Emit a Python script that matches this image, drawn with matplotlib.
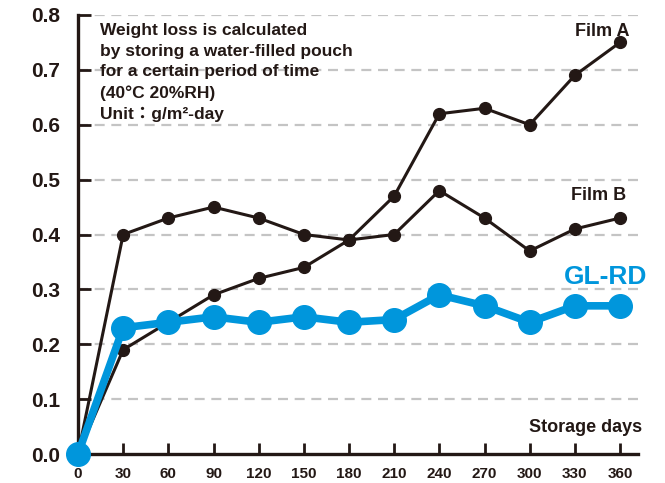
import matplotlib
matplotlib.use("Agg")
import matplotlib.pyplot as plt
from matplotlib import font_manager

plt.rcParams['font.family'] = ['Liberation Sans', 'DejaVu Sans']

days = [0, 30, 60, 90, 120, 150, 180, 210, 240, 270, 300, 330, 360]
film_a = [0, 0.19, 0.24, 0.29, 0.32, 0.34, 0.39, 0.47, 0.62, 0.63, 0.60, 0.69, 0.75]
film_b = [0, 0.40, 0.43, 0.45, 0.43, 0.40, 0.39, 0.40, 0.48, 0.43, 0.37, 0.41, 0.43]
gl_rd = [0, 0.23, 0.24, 0.25, 0.24, 0.25, 0.24, 0.245, 0.29, 0.27, 0.24, 0.27, 0.27]
y_ticks = [0.0, 0.1, 0.2, 0.3, 0.4, 0.5, 0.6, 0.7, 0.8]

DARK = '#231815'
BLUE = '#0096dc'

names = {f.name for f in font_manager.fontManager.ttflist}
narrow = 'Liberation Sans Narrow' if 'Liberation Sans Narrow' in names else 'Liberation Sans'

fig = plt.figure(figsize=(6.65, 4.83), dpi=100)
W, H = 665, 483
left, right, top, bottom = 78, 638, 15, 454
ax = fig.add_axes([left / W, 1 - bottom / H, (right - left) / W, (bottom - top) / H])

px_per_day = (620 - 78) / 360
ax.set_xlim(0, (right - left) / px_per_day)
ax.set_ylim(0, 0.8)

for y in y_ticks[1:]:
    ax.axhline(y, color='#c4c4c4', lw=1.6, ls=(0, (4.5, 3)), zorder=1)

ax.plot(days, film_b, color=DARK, lw=2.2, marker='o', ms=8.5, zorder=3, clip_on=False)
ax.plot(days, film_a, color=DARK, lw=2.2, marker='o', ms=8.5, zorder=3, clip_on=False)
ax.plot(days, gl_rd, color=BLUE, lw=5.5, marker='o', ms=17, zorder=5, clip_on=False)

for s in ['top', 'right']:
    ax.spines[s].set_visible(False)
for s in ['left', 'bottom']:
    ax.spines[s].set_linewidth(2.4)
    ax.spines[s].set_color(DARK)

ax.set_xticks(days)
ax.set_xticklabels([str(d) for d in days], fontsize=12 if narrow != 'Liberation Sans' else 11,
                   fontweight='bold', color=DARK, family=narrow)
ax.set_yticks(y_ticks)
ax.set_yticklabels([f"{v:.1f}" for v in y_ticks], fontsize=15, fontweight='bold', color=DARK)
ax.tick_params(axis='x', direction='in', length=8, width=2, color=DARK, pad=9)
ax.tick_params(axis='y', direction='in', length=9, width=2, color=DARK, pad=13)

note = ("Weight loss is calculated\nby storing a water-filled pouch\n"
        "for a certain period of time\n(40°C 20%RH)\nUnit：g/m²-day")
fig.text(100 / W, 1 - 23 / H, note, fontsize=12.5, fontweight='bold', color=DARK,
         va='top', ha='left', linespacing=1.47,
         family=['Liberation Sans', 'Noto Sans CJK JP', 'DejaVu Sans'])

ax.text(366, 0.755, "Film A", fontsize=13, fontweight='bold', color=DARK,
        ha='right', va='bottom')
ax.text(364, 0.455, "Film B", fontsize=13, fontweight='bold', color=DARK,
        ha='right', va='bottom')
ax.text(378, 0.30, "GL-RD", fontsize=19, fontweight='bold', color=BLUE,
        ha='right', va='bottom')
ax.text(375, 0.033, "Storage days", fontsize=13,
        fontweight='bold', color=DARK, ha='right', va='bottom')

fig.savefig('out.png', dpi=100)
